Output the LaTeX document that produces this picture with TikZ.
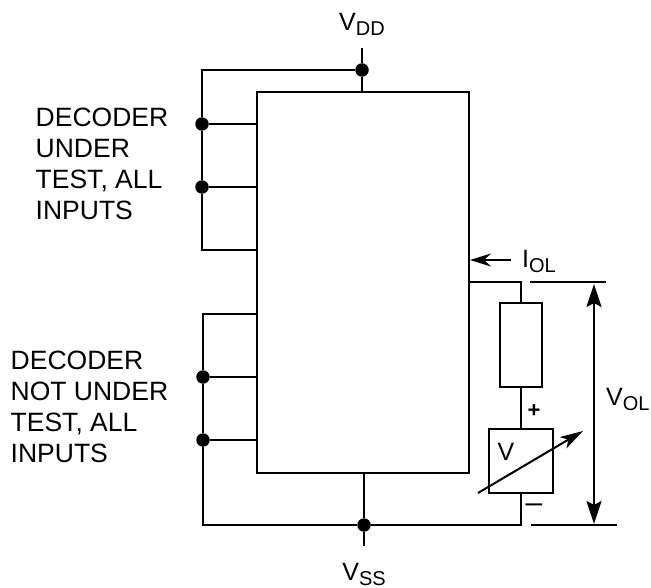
\documentclass[tikz,border=0pt]{standalone}
\usepackage{fontspec}
\setmainfont{Liberation Sans}
\usetikzlibrary{arrows.meta}
\newcommand{\subtxt}[1]{\raisebox{-5pt}{\fontsize{20}{20}\selectfont #1}}
\tikzset{
 wire/.style={line width=2pt},
 dot/.style={circle,fill=black,inner sep=0pt,minimum size=13.5pt},
 lab/.style={font=\fontsize{26.5}{31}\selectfont,align=left,anchor=west,inner sep=0pt},
 sym/.style={font=\fontsize{25}{28}\selectfont,inner sep=0pt},
 arr/.style={line width=2pt,{Stealth[length=23pt,width=15pt,inset=4pt]}-{Stealth[length=23pt,width=15pt,inset=4pt]}},
 one/.style={line width=2pt,-{Stealth[length=21pt,width=13pt,inset=7pt]}}
}
\begin{document}
\begin{tikzpicture}[x=1pt,y=-1pt]
\useasboundingbox (0,0) rectangle (651,588);
\node[draw,wire,minimum width=212pt,minimum height=381pt,anchor=north west,inner sep=0pt] (chip) at (256,91) {};
\coordinate (t) at (362,91);
\node[dot] (ddd) at (362,70) {};
\node[dot] (d1) at (202,124) {};
\node[dot] (d2) at (202,187) {};
\node[dot] (d3) at (203,377) {};
\node[dot] (d4) at (203,440) {};
\node[dot] (dss) at (364,525) {};
\node[sym] (vdd) at (362,24) {V\subtxt{DD}};
\node[sym] (vss) at (364,574) {V\subtxt{SS}};
\coordinate (vddend) at (362,48);
\coordinate (vssend) at (364,546);
\draw[wire] (vddend) -- (ddd) -- (t);
\draw[wire] (ddd) -- (202,70) -- (d1) -- (d2) -- (202,250) -- (256,250);
\draw[wire] (d1) -- (256,124);
\draw[wire] (d2) -- (256,187);
\draw[wire] (256,314) -- (203,314) -- (d3) -- (d4) -- (203,525) -- (dss);
\draw[wire] (d3) -- (256,377);
\draw[wire] (d4) -- (256,440);
\draw[wire] (364,472) -- (dss) -- (vssend);
\node[draw,wire,minimum width=42pt,minimum height=84pt,inner sep=0pt] (res) at (521,345) {};
\node[draw,wire,minimum width=64pt,minimum height=64pt,inner sep=0pt] (vm) at (521,461) {};
\node[sym] at (506,452) {V};
\coordinate (top) at (521,282);
\draw[wire] (468,282) -- (top) -- (res.north);
\draw[wire] (res.south) -- (vm.north);
\coordinate (bot) at (521,525);
\draw[wire] (vm.south) -- (bot) -- (dss);
\coordinate (r1) at (530,282);
\coordinate (r2) at (606,282);
\coordinate (r3) at (531,525);
\coordinate (r4) at (617,525);
\draw[wire] (r1) -- (r2);
\draw[wire] (r3) -- (r4);
\draw[arr] (594,284) -- (594,524);
\draw[one] (511,260) -- (470,260);
\draw[wire,-{Stealth[length=23pt,width=13pt,inset=6pt]}] (478,493) -- (583,431);
\node[sym,font=\bfseries\fontsize{22}{22}\selectfont] at (534,411) {+};
\node[sym,font=\fontsize{30}{30}\selectfont] at (534,508) {–};
\node[sym,anchor=west] at (606,399) {V\subtxt{OL}};
\node[sym,anchor=west] at (522,261) {I\subtxt{OL}};
\node[lab] at (35.5,164) {DECODER\\UNDER\\TEST, ALL\\INPUTS};
\node[lab] at (10.5,407) {DECODER\\NOT UNDER\\TEST, ALL\\INPUTS};
\end{tikzpicture}
\end{document}
